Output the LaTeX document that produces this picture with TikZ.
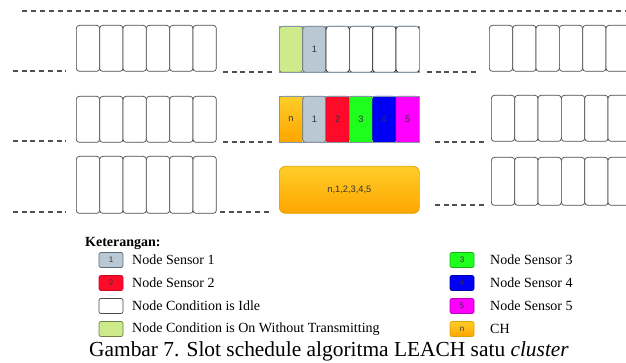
\documentclass[tikz,border=0pt]{standalone}
\usepackage{fontspec}
\setmainfont{Liberation Serif}
\newfontfamily\sansf{Liberation Sans}
\definecolor{idleD}{HTML}{4A4A4A}
\definecolor{lgreen}{HTML}{CDEB8B}
\definecolor{lgreenD}{HTML}{6E7F4A}
\definecolor{sgray}{HTML}{BAC8D3}
\definecolor{sgrayD}{HTML}{5B6E80}
\definecolor{sred}{HTML}{FF0A2A}
\definecolor{sgreen}{HTML}{1EFF1E}
\definecolor{sblue}{HTML}{0000F5}
\definecolor{smag}{HTML}{FF00FF}
\definecolor{orT}{HTML}{FFCD28}
\definecolor{orB}{HTML}{FFA500}
\definecolor{orD}{HTML}{E0A400}
\definecolor{frameC}{HTML}{8796A8}
\definecolor{dashC}{HTML}{505050}
\definecolor{lblC}{HTML}{333333}
\tikzset{
  slot/.style={draw=idleD, fill=white, rounded corners=3pt, line width=0.7pt,
    minimum width=23.33pt, minimum height=46pt, inner sep=0pt, anchor=north west,
    font=\sansf\fontsize{9.3}{10}\selectfont, text=lblC},
  rowdash/.style={draw=dashC, line width=1.4pt, dash pattern=on 5pt off 3.7pt},
  legbox/.style={rounded corners=2pt, line width=0.7pt, minimum width=24pt,
    minimum height=15pt, inner sep=0pt, font=\sansf\fontsize{8}{9}\selectfont, text=lblC},
  legtext/.style={anchor=west, inner sep=0pt, font=\fontsize{14}{16}\selectfont},
  orangefill/.style={top color=orT, bottom color=orB, draw=orD},
}
\begin{document}
\begin{tikzpicture}[x=1pt,y=-1pt]
\useasboundingbox[fill=white] (0,0) rectangle (626,363);
% top dashed line
\coordinate (t0) at (22,11);
\coordinate (t1) at (626,11);
\draw[draw=dashC, line width=1.4pt, dash pattern=on 5pt off 4pt] (t0) -- (t1);

% left groups
\foreach \i in {0,...,5} {
  \node[slot] (A\i) at ({76+\i*23.333},25) {};
  \node[slot] (B\i) at ({76+\i*23.333},96) {};
  \node[slot, minimum height=57pt] (C\i) at ({76+\i*23.333},156) {};
}
% right groups
\foreach \i in {0,...,5} {
  \node[slot] (G\i) at ({489+\i*23.333},25) {};
  \node[slot] (H\i) at ({491+\i*23.333},95) {};
  \node[slot, minimum height=48pt] (K\i) at ({491+\i*23.333},157) {};
}
% middle row 1
\node[slot, fill=lgreen, draw=lgreenD] (D0) at (279,26) {};
\node[slot, fill=sgray, draw=sgrayD] (D1) at (302.33,26) {1};
\foreach \i in {2,...,5} {\node[slot, draw=black!85] (D\i) at ({279+\i*23.333},26) {};}
\draw[frameC, line width=0.6pt] (D0.north west) rectangle (D5.south east);
% middle row 2
\node[slot, orangefill] (E0) at (279,96) {n};
\node[slot, fill=sgray, draw=sgrayD] (E1) at (302.33,96) {1};
\node[slot, fill=sred, draw=sred!80!black] (E2) at (325.67,96) {2};
\node[slot, fill=sgreen, draw=sgreen!80!black] (E3) at (349,96) {3};
\node[slot, fill=sblue, draw=sblue!80!black] (E4) at (372.33,96) {4};
\node[slot, fill=smag, draw=smag!80!black] (E5) at (395.67,96) {5};
\draw[frameC, line width=0.6pt] (E0.north west) rectangle (E5.south east);
% middle row 3
\node[slot, orangefill, rounded corners=6pt, minimum width=140pt, minimum height=47pt] (F) at (279,166) {n,1,2,3,4,5};

% row dashes
\draw[rowdash] (13,71) coordinate (a1) -- (66,71) coordinate (a2);
\draw[rowdash] (13,141) coordinate (b1) -- (66,141) coordinate (b2);
\draw[rowdash] (13,212) coordinate (c1) -- (66,212) coordinate (c2);
\draw[rowdash] (223,72) coordinate (a3) -- (275,72) coordinate (a4);
\draw[rowdash] (223,142) coordinate (b3) -- (275,142) coordinate (b4);
\draw[rowdash] (220,212) coordinate (c3) -- (272,212) coordinate (c4);
\draw[rowdash] (427,72) coordinate (a5) -- (478,72) coordinate (a6);
\draw[rowdash] (435,142) coordinate (b5) -- (486,142) coordinate (b6);
\draw[rowdash] (435,205) coordinate (c5) -- (486,205) coordinate (c6);

% legend
\node[anchor=west, inner sep=0pt, font=\bfseries\fontsize{14}{16}\selectfont] (ket) at (85,243) {Keterangan:};
\node[legbox, fill=sgray, draw=sgrayD] (l1) at (111,260) {1};
\node[legtext] (t1) at (132,260) {Node Sensor 1};
\node[legbox, fill=sred, draw=sred!80!black] (l2) at (111,283) {2};
\node[legtext] (t2) at (132,283) {Node Sensor 2};
\node[legbox, fill=white, draw=idleD] (l3) at (111,306) {};
\node[legtext] (t3) at (132,306) {Node Condition is Idle};
\node[legbox, fill=lgreen, draw=lgreenD] (l4) at (111,329) {};
\node[legtext] (t4) at (132,329) {Node Condition is On Without Transmitting};

\node[legbox, fill=sgreen, draw=sgreen!70!black] (l5) at (462,260) {3};
\node[legtext] (t5) at (490,260) {Node Sensor 3};
\node[legbox, fill=sblue, draw=sblue!70!black] (l6) at (462,283) {4};
\node[legtext] (t6) at (490,283) {Node Sensor 4};
\node[legbox, fill=smag, draw=smag!70!black] (l7) at (462,306) {5};
\node[legtext] (t7) at (490,306) {Node Sensor 5};
\node[legbox, orangefill] (l8) at (462,329) {n};
\node[legtext] (t8) at (490,329) {CH};

% caption
\node[inner sep=0pt, font=\fontsize{21.4}{24}\selectfont] (cap) at (329,351) {Gambar 7. Slot schedule algoritma LEACH satu \textit{cluster}};
\end{tikzpicture}
\end{document}
